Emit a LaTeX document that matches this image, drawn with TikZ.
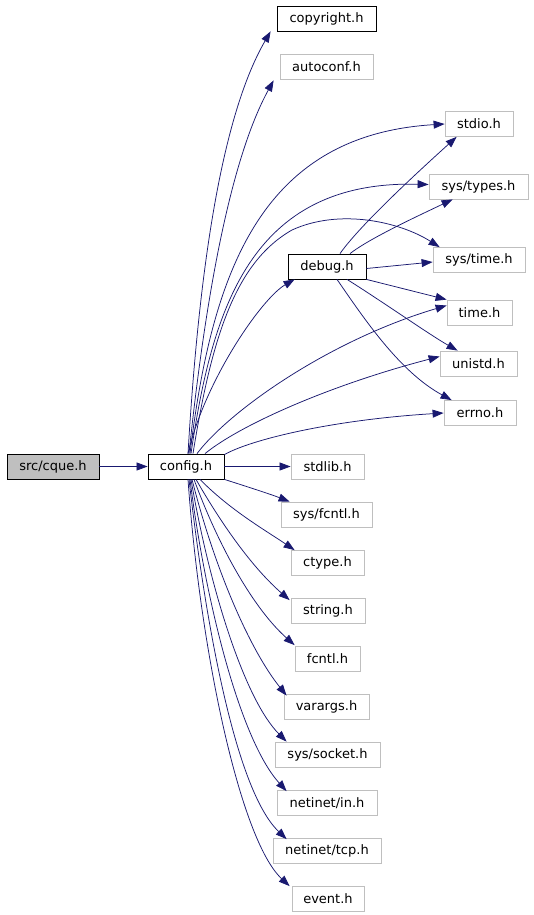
\documentclass[tikz,border=0pt]{standalone}
\usepackage{fontspec}
\setmainfont{DejaVu Sans}
\usetikzlibrary{arrows.meta}
\definecolor{edgecol}{HTML}{191970}
\definecolor{greyborder}{HTML}{BFBFBF}
\definecolor{rootfill}{HTML}{BFBFBF}
\tikzset{
  box/.style={draw=black, line width=0.8pt, minimum height=25pt, inner sep=0pt, font=\fontsize{13}{15}\selectfont, fill=white},
  gbox/.style={box, draw=greyborder},
  rootbox/.style={box, fill=rootfill},
  edge/.style={draw=edgecol, line width=0.75pt, -{Triangle[length=11pt,width=8pt]}, fill=none},
}
\begin{document}
\begin{tikzpicture}[x=1pt,y=-1pt]
\useasboundingbox (0,0) rectangle (533,915);
\fill[white] (0,0) rectangle (533,915);
% nodes
\node[rootbox, minimum width=92pt] (cque) at (53,466.5) {src/cque.h};
\node[box, minimum width=76pt] (config) at (186,466.5) {config.h};
\node[box, minimum width=99pt] (copyright) at (326.5,18.5) {copyright.h};
\node[gbox, minimum width=93pt] (autoconf) at (326.5,66.5) {autoconf.h};
\node[gbox, minimum width=68pt] (stdio) at (479,124) {stdio.h};
\node[gbox, minimum width=99pt] (systypes) at (478.5,186.5) {sys/types.h};
\node[gbox, minimum width=92pt] (systime) at (479,260) {sys/time.h};
\node[box, minimum width=78pt] (debug) at (327,266.5) {debug.h};
\node[gbox, minimum width=65pt] (time) at (479.5,312.5) {time.h};
\node[gbox, minimum width=77pt] (unistd) at (478.5,363.5) {unistd.h};
\node[gbox, minimum width=72pt] (errno) at (480,413) {errno.h};
\node[gbox, minimum width=73pt] (stdlib) at (327.5,466.5) {stdlib.h};
\node[gbox, minimum width=91pt] (sysfcntl) at (326.5,514.5) {sys/fcntl.h};
\node[gbox, minimum width=73pt] (ctype) at (327.5,563) {ctype.h};
\node[gbox, minimum width=74pt] (string) at (328,611) {string.h};
\node[gbox, minimum width=65pt] (fcntl) at (327.5,659) {fcntl.h};
\node[gbox, minimum width=85pt] (varargs) at (326.5,706.5) {varargs.h};
\node[gbox, minimum width=105pt] (syssocket) at (327.5,754.5) {sys/socket.h};
\node[gbox, minimum width=100pt] (netin) at (327,803) {netinet/in.h};
\node[gbox, minimum width=108pt] (nettcp) at (327,851) {netinet/tcp.h};
\node[gbox, minimum width=72pt] (event) at (328,899) {event.h};
% edges
\draw[edge] (cque.east) -- (config.west);
% upward from config
\draw[edge] ([xshift=2pt]config.north) .. controls (200,250) and (225,110) .. ([xshift=-6pt]copyright.south west);
\draw[edge] ([xshift=3pt]config.north) .. controls (205,300) and (230,160) .. ([xshift=-6pt,yshift=-1pt]autoconf.south west);
\draw[edge] ([xshift=4pt]config.north) .. controls (212,270) and (262,135) .. (stdio.west);
\draw[edge] ([xshift=5pt]config.north) .. controls (212,310) and (250,180) .. ([yshift=2pt]systypes.west);
\draw[edge] ([xshift=7pt]config.north) .. controls (212,335) and (236,262) .. (292,230) .. controls (340,208) and (400,222) .. ([xshift=7pt]systime.north west);
\draw[edge] ([xshift=2pt]config.north) .. controls (205,380) and (262,298) .. ([xshift=7pt]debug.south west);
\draw[edge] ([xshift=11pt]config.north) .. controls (230,410) and (330,340) .. ([yshift=7pt]time.west);
\draw[edge] ([xshift=19pt]config.north) .. controls (240,425) and (330,385) .. ([yshift=7pt]unistd.west);
\draw[edge] ([yshift=-1pt]config.north east) .. controls (250,440) and (330,420) .. (errno.west);
% downward from config
\draw[edge] (config.east) -- (stdlib.west);
\draw[edge] (config.south east) .. controls (245,486) and (270,494) .. ([xshift=9pt]sysfcntl.north west);
\draw[edge] ([xshift=14pt]config.south) .. controls (230,510) and (265,530) .. ([xshift=4pt]ctype.north west);
\draw[edge] ([xshift=10pt]config.south) .. controls (225,530) and (255,570) .. ([xshift=-1pt,yshift=-2pt]string.north west);
\draw[edge] ([xshift=8pt]config.south) .. controls (220,550) and (255,610) .. ([yshift=1pt]fcntl.north west);
\draw[edge] ([xshift=6pt]config.south) .. controls (215,570) and (250,650) .. ([xshift=3pt,yshift=-2pt]varargs.north west);
\draw[edge] ([xshift=5pt]config.south) .. controls (210,590) and (245,700) .. ([xshift=12pt]syssocket.north west);
\draw[edge] ([xshift=4pt]config.south) .. controls (205,600) and (240,740) .. ([xshift=10pt,yshift=-1pt]netin.north west);
\draw[edge] ([xshift=3pt]config.south) .. controls (205,620) and (235,790) .. ([xshift=14pt,yshift=-1pt]nettcp.north west);
\draw[edge] ([xshift=2pt]config.south) .. controls (200,650) and (240,840) .. ([xshift=-2pt]event.north west);
% from debug
\draw[edge] ([xshift=13pt]debug.north) .. controls (360,225) and (420,170) .. ([xshift=12pt]stdio.south west);
\draw[edge] ([xshift=23pt]debug.north) .. controls (370,238) and (420,215) .. ([xshift=24pt]systypes.south west);
\draw[edge] ([yshift=-2pt]debug.east) -- ([yshift=-2pt]systime.west);
\draw[edge] (debug.south east) -- (time.north west);
\draw[edge] ([xshift=20pt]debug.south) .. controls (380,300) and (430,335) .. ([xshift=18pt]unistd.north west);
\draw[edge] ([xshift=10pt]debug.south) .. controls (365,320) and (400,372) .. ([xshift=8pt]errno.north west);
\end{tikzpicture}
\end{document}
